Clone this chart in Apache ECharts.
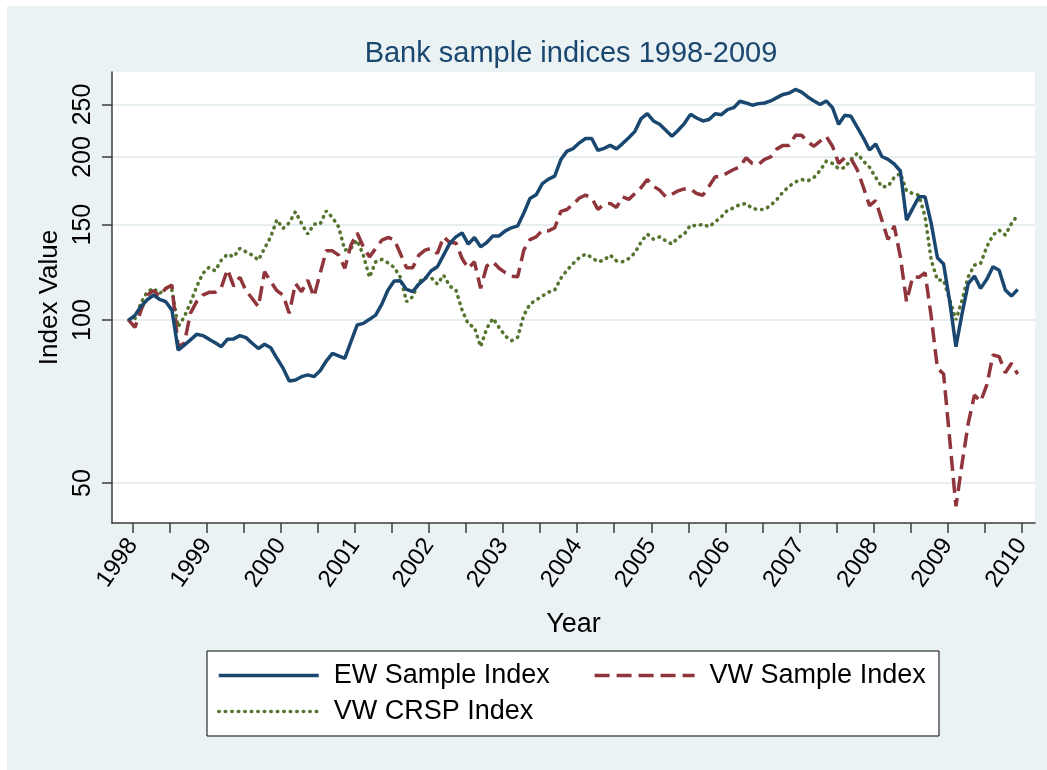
<!DOCTYPE html>
<html><head><meta charset="utf-8">
<script src="https://cdn.jsdelivr.net/npm/echarts@6/dist/echarts.min.js"></script>
<style>
html,body{margin:0;padding:0;background:#fff}
#wrap{position:relative;width:1047px;height:770px;background:#fff}
#panel{position:absolute;left:7px;top:6px;width:1040px;height:764px;background:#eaf2f3}
#c{position:absolute;left:0;top:0;width:1047px;height:770px}
</style>
</head><body>
<div id="wrap"><div id="panel"></div><div id="c"></div></div>
<script>
const chartTitle = 'Bank sample indices 1998-2009';
const xAxisTitle = 'Year';
const yAxisTitle = 'Index Value';
const seriesNames = ['EW Sample Index', 'VW Sample Index', 'VW CRSP Index'];
const firstObs = 1997.946;           // base month (index = 100), monthly after that
const yearTicks = [1998,1999,2000,2001,2002,2003,2004,2005,2006,2007,2008,2009,2010];
const halfYearTicks = [1998,1998.5,1999,1999.5,2000,2000.5,2001,2001.5,2002,2002.5,2003,2003.5,2004,2004.5,2005,2005.5,2006,2006.5,2007,2007.5,2008,2008.5,2009,2009.5,2010];
const yTicks = [50,100,150,200,250];

const ewSample = [100,102,106,109,111.2,109.2,108.1,104.3,88.0,89.9,91.9,94.1,93.6,92.2,90.8,89.3,92.2,92.3,93.6,92.8,90.6,88.6,90.2,88.9,
85.0,81.5,77.2,77.5,78.6,79.2,78.6,80.6,84.0,86.8,85.9,85.0,91.2,97.9,98.6,100.3,102.1,107.0,113.6,118.0,118.2,113.9,112.8,116.5,
119.2,123.3,125.4,131.8,138.5,142.4,144.8,138.1,142.0,136.5,139.0,143.0,143.0,146.1,148.0,149.2,157.6,167.6,170.3,178.6,182.0,184.3,197.8,205.0,
207.3,212.4,216.3,216.3,205.6,207.5,210.1,207.0,211.7,217.1,223.0,235.4,240.4,233.1,229.8,224.0,218.3,224.0,230.5,239.7,236.0,233.1,234.5,240.4,
239.4,244.5,246.6,253.4,251.6,249.2,250.9,251.6,253.8,257.4,260.9,262.4,266.5,263.5,258.1,253.8,249.9,253.8,246.6,229.8,238.7,237.7,227.1,217.0,
206.0,211.4,200.4,198.0,194.1,188.4,152.9,160.7,168.8,168.8,150.7,130.3,126.9,108.1,89.3,102.9,116.8,120.5,114.4,118.9,125.4,123.6,113.6,110.7,
113.9];

const vwSample = [100,96.9,104.3,111.2,113.3,110.7,114.4,116.0,89.3,90.6,103.0,108.1,111.2,112.5,112.5,114.9,124.0,115.5,119.9,113.3,109.6,105.8,122.8,117.7,
113.3,111.2,102.9,116.8,112.8,118.5,110.4,121.9,134.2,134.2,131.8,124.6,137.5,144.8,136.5,130.8,135.6,140.4,142.0,140.8,132.7,124.9,124.9,131.8,
134.6,135.6,132.7,142.4,139.0,138.8,129.9,124.6,128.1,114.4,125.8,128.1,124.6,122.3,120.5,120.2,134.6,140.8,142.4,146.5,146.1,148.0,158.7,160.0,
163.7,168.0,170.0,168.0,160.0,163.7,164.2,161.4,168.8,167.0,171.2,175.6,181.7,176.6,173.7,168.8,170.7,173.2,174.6,174.6,171.2,170.0,176.6,183.8,
184.0,187.0,189.6,191.9,199.4,194.6,193.8,198.0,200.0,207.0,210.1,210.1,219.3,219.3,213.2,209.3,213.9,218.3,209.3,194.6,199.4,198.6,189.6,176.0,
162.6,166.2,152.9,140.8,149.2,130.8,108.1,120.2,119.9,122.3,101.4,81.5,79.5,60.1,45.3,54.4,64.5,72.7,70.7,75.9,86.2,85.6,79.9,83.2,
79.5];

const vwCrsp = [100,100.7,107.6,112.8,114.4,112.0,114.4,113.6,97.2,101.4,107.6,115.2,121.9,125.1,123.3,129.0,132.3,130.8,135.6,133.6,131.8,129.0,135.6,142.4,
153.1,147.6,151.2,158.4,150.7,144.1,150.3,150.3,159.0,154.6,148.6,134.6,135.6,140.4,131.8,119.9,128.1,129.4,127.5,125.1,119.9,108.1,110.4,117.7,
119.8,119.7,116.5,121.0,115.5,113.6,104.3,98.3,96.9,89.3,96.5,100.7,96.9,93.4,91.6,92.9,102.1,107.0,108.9,110.7,112.6,113.6,119.4,123.6,
127.2,130.4,132.3,130.5,128.1,129.0,131.8,128.6,128.1,129.9,133.1,139.4,144.1,141.0,142.4,140.0,138.1,142.0,144.1,149.7,149.2,150.3,148.6,151.8,
155.1,159.5,161.1,163.4,164.1,160.7,160.0,160.0,162.9,167.0,172.4,176.6,179.9,181.7,180.7,183.3,188.8,196.4,194.6,190.3,191.1,197.9,203.0,196.6,
191.4,183.4,176.1,176.6,183.3,186.5,173.2,171.2,170.0,155.1,129.0,118.5,118.5,108.9,100.0,108.9,120.2,126.3,127.2,136.5,143.5,146.5,143.5,150.7,
156.1];

const months = ewSample.map((_, i) => firstObs + i / 12);
const pairs = arr => arr.map((v, i) => [months[i], v]);

const FONT = "'Liberation Sans', Arial, Helvetica, sans-serif";
const AXIS_COLOR = '#3c3c3c';
const GRID_COLOR = '#e6eef0';

const legendCommon = {
  orient: 'horizontal', itemWidth: 100, itemHeight: 14, padding: 0,
  itemStyle: {opacity: 0},
  lineStyle: {width: 3.5},
  textStyle: {fontFamily: FONT, fontSize: 27, color: '#000', padding: [0, 0, 0, 10]}
};

const chart = echarts.init(document.getElementById('c'), null, {renderer: 'canvas'});
chart.setOption({
  animation: false,
  textStyle: {fontFamily: FONT},
  title: {
    text: chartTitle, left: 566, top: 34, textAlign: 'center',
    textStyle: {fontFamily: FONT, fontSize: 29, fontWeight: 'normal', color: '#1a476f'}
  },
  grid: {left: 112, right: 12, top: 72, bottom: 247, show: true, backgroundColor: '#ffffff', borderWidth: 0},
  xAxis: {
    type: 'value', min: 1997.72, max: 2010.18,
    name: xAxisTitle, nameLocation: 'middle', nameGap: 88,
    nameTextStyle: {fontFamily: FONT, fontSize: 27, color: '#000'},
    axisLine: {show: true, onZero: false, lineStyle: {color: AXIS_COLOR, width: 1.5}},
    axisTick: {show: true, customValues: halfYearTicks, length: 10, lineStyle: {color: AXIS_COLOR, width: 1.5}},
    axisLabel: {customValues: yearTicks, rotate: 55, margin: 18, fontFamily: FONT, fontSize: 24, color: '#000',
      formatter: v => String(Math.round(v))},
    splitLine: {show: false}
  },
  yAxis: {
    type: 'log', logBase: 10, min: 42.2, max: 287,
    name: yAxisTitle, nameLocation: 'middle', nameGap: 46,
    nameTextStyle: {fontFamily: FONT, fontSize: 26, color: '#000'},
    axisLine: {show: true, lineStyle: {color: AXIS_COLOR, width: 1.5}},
    axisTick: {show: true, customValues: yTicks, length: 10, lineStyle: {color: AXIS_COLOR, width: 1.5}},
    axisLabel: {customValues: yTicks, rotate: 90, margin: 16, fontFamily: FONT, fontSize: 25, color: '#000'},
    splitLine: {show: true, lineStyle: {color: GRID_COLOR, width: 2}}
  },
  legend: [
    Object.assign({data: [seriesNames[0], seriesNames[1]], left: 217, top: 662, itemGap: 43}, legendCommon),
    Object.assign({data: [seriesNames[2]], left: 217, top: 698}, legendCommon)
  ],
  graphic: [{
    type: 'rect', z: -1, shape: {x: 207, y: 651, width: 732, height: 85},
    style: {fill: '#ffffff', stroke: '#000000', lineWidth: 1}
  }],
  series: [
    {name: seriesNames[0], type: 'line', data: pairs(ewSample), symbol: 'none', showSymbol: false,
     color: '#1a476f', lineStyle: {color: '#1a476f', width: 3.5}, z: 3},
    {name: seriesNames[1], type: 'line', data: pairs(vwSample), symbol: 'none', showSymbol: false,
     color: '#90353b', lineStyle: {color: '#90353b', width: 3.5, type: [15, 7]}, z: 2},
    {name: seriesNames[2], type: 'line', data: pairs(vwCrsp), symbol: 'none', showSymbol: false,
     color: '#55752f', lineStyle: {color: '#55752f', width: 3.6, type: [0.5, 6], cap: 'round'}, z: 1}
  ]
});
</script>
</body></html>
